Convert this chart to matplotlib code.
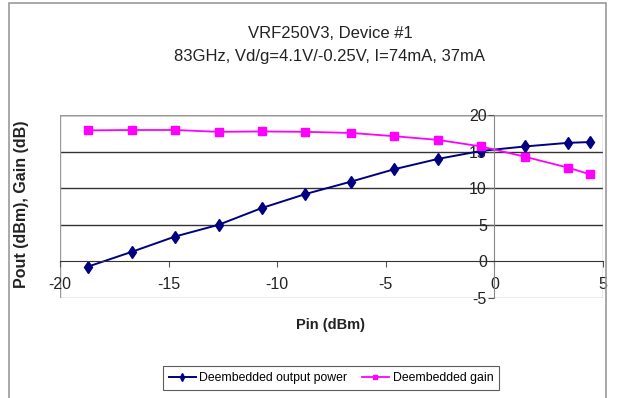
import matplotlib.pyplot as plt
from matplotlib.patches import Rectangle

plt.rcParams['font.family'] = ['Liberation Sans', 'DejaVu Sans']
plt.rcParams['axes.unicode_minus'] = False

# Data
pin = [-18.7, -16.7, -14.7, -12.7, -10.7, -8.7, -6.6, -4.6, -2.6, -0.6, 1.4, 3.4, 4.4]
pout = [-0.7, 1.3, 3.4, 5.0, 7.3, 9.2, 10.9, 12.6, 14.0, 15.1, 15.7, 16.2, 16.3]
gain = [17.9, 17.95, 17.95, 17.7, 17.75, 17.7, 17.55, 17.1, 16.6, 15.7, 14.3, 12.8, 11.9]

xticks = [-20, -15, -10, -5, 0, 5]
yticks = [-5, 0, 5, 10, 15, 20]

fig = plt.figure(figsize=(6.21, 3.98), dpi=100)
fig.patches.append(Rectangle((9 / 621, -0.05), (606 - 9) / 621, 1 - 3 / 398 + 0.05,
                             transform=fig.transFigure, fill=False,
                             edgecolor='#999999', linewidth=1.2))

ax = fig.add_axes([60 / 621, 1 - 298 / 398, (603 - 60) / 621, (298 - 115) / 398])
ax.plot(pin, pout, color='#000080', marker='d', markersize=6.5, linewidth=1.4,
        label='Deembedded output power')
ax.plot(pin, gain, color='#FF00FF', marker='s', markersize=6, linewidth=1.3,
        label='Deembedded gain')

ax.set_xlim(-20, 5)
ax.set_ylim(-5, 20)
ax.set_xticks(xticks)
ax.set_yticks(yticks)

# horizontal gridlines
for y in [5, 10, 15, 20]:
    ax.axhline(y, color='#333333', linewidth=1.0, zorder=0)

# axes crossing at the origin, frame around plot area
ax.spines['left'].set_position(('data', 0))
ax.spines['bottom'].set_position(('data', 0))
ax.spines['left'].set_color('#888888')
ax.spines['bottom'].set_color('#333333')
for s in ['top', 'right']:
    ax.spines[s].set_visible(False)
ax.add_patch(Rectangle((0, 0), 1, 1, transform=ax.transAxes, fill=False,
                       edgecolor='#999999', linewidth=1.0, zorder=0.5))

ax.tick_params(axis='x', direction='out', length=4, color='#555555', labelsize=11.5,
               pad=7, labelcolor='#222222')
ax.tick_params(axis='y', direction='out', length=4, color='#555555', labelsize=11.5,
               pad=1.5, labelcolor='#222222')
for lbl in ax.get_yticklabels():
    lbl.set_zorder(5)

fig.text(330 / 621, 1 - 34 / 398, 'VRF250V3, Device #1', ha='center', va='center',
         fontsize=12, color='#222222')
fig.text(330 / 621, 1 - 56 / 398, '83GHz, Vd/g=4.1V/-0.25V, I=74mA, 37mA',
         ha='center', va='center', fontsize=12, color='#222222')
fig.text(331 / 621, 1 - 325 / 398, 'Pin (dBm)', ha='center', va='center',
         fontsize=10.5, fontweight='bold', color='#222222')
fig.text(22 / 621, 1 - 204 / 398, 'Pout (dBm), Gain (dB)', ha='center', va='center',
         rotation=90, fontsize=11.5, fontweight='bold', color='#222222')

leg = fig.legend(loc='center', bbox_to_anchor=(331 / 621, 1 - 378 / 398), ncol=2,
                 fontsize=8.8, frameon=True, fancybox=False, edgecolor='#333333',
                 handlelength=2.2, columnspacing=1.2, handletextpad=0.3,
                 borderpad=0.5, markerscale=0.6)
leg.get_frame().set_linewidth(0.8)

fig.savefig('out.png', dpi=100)
